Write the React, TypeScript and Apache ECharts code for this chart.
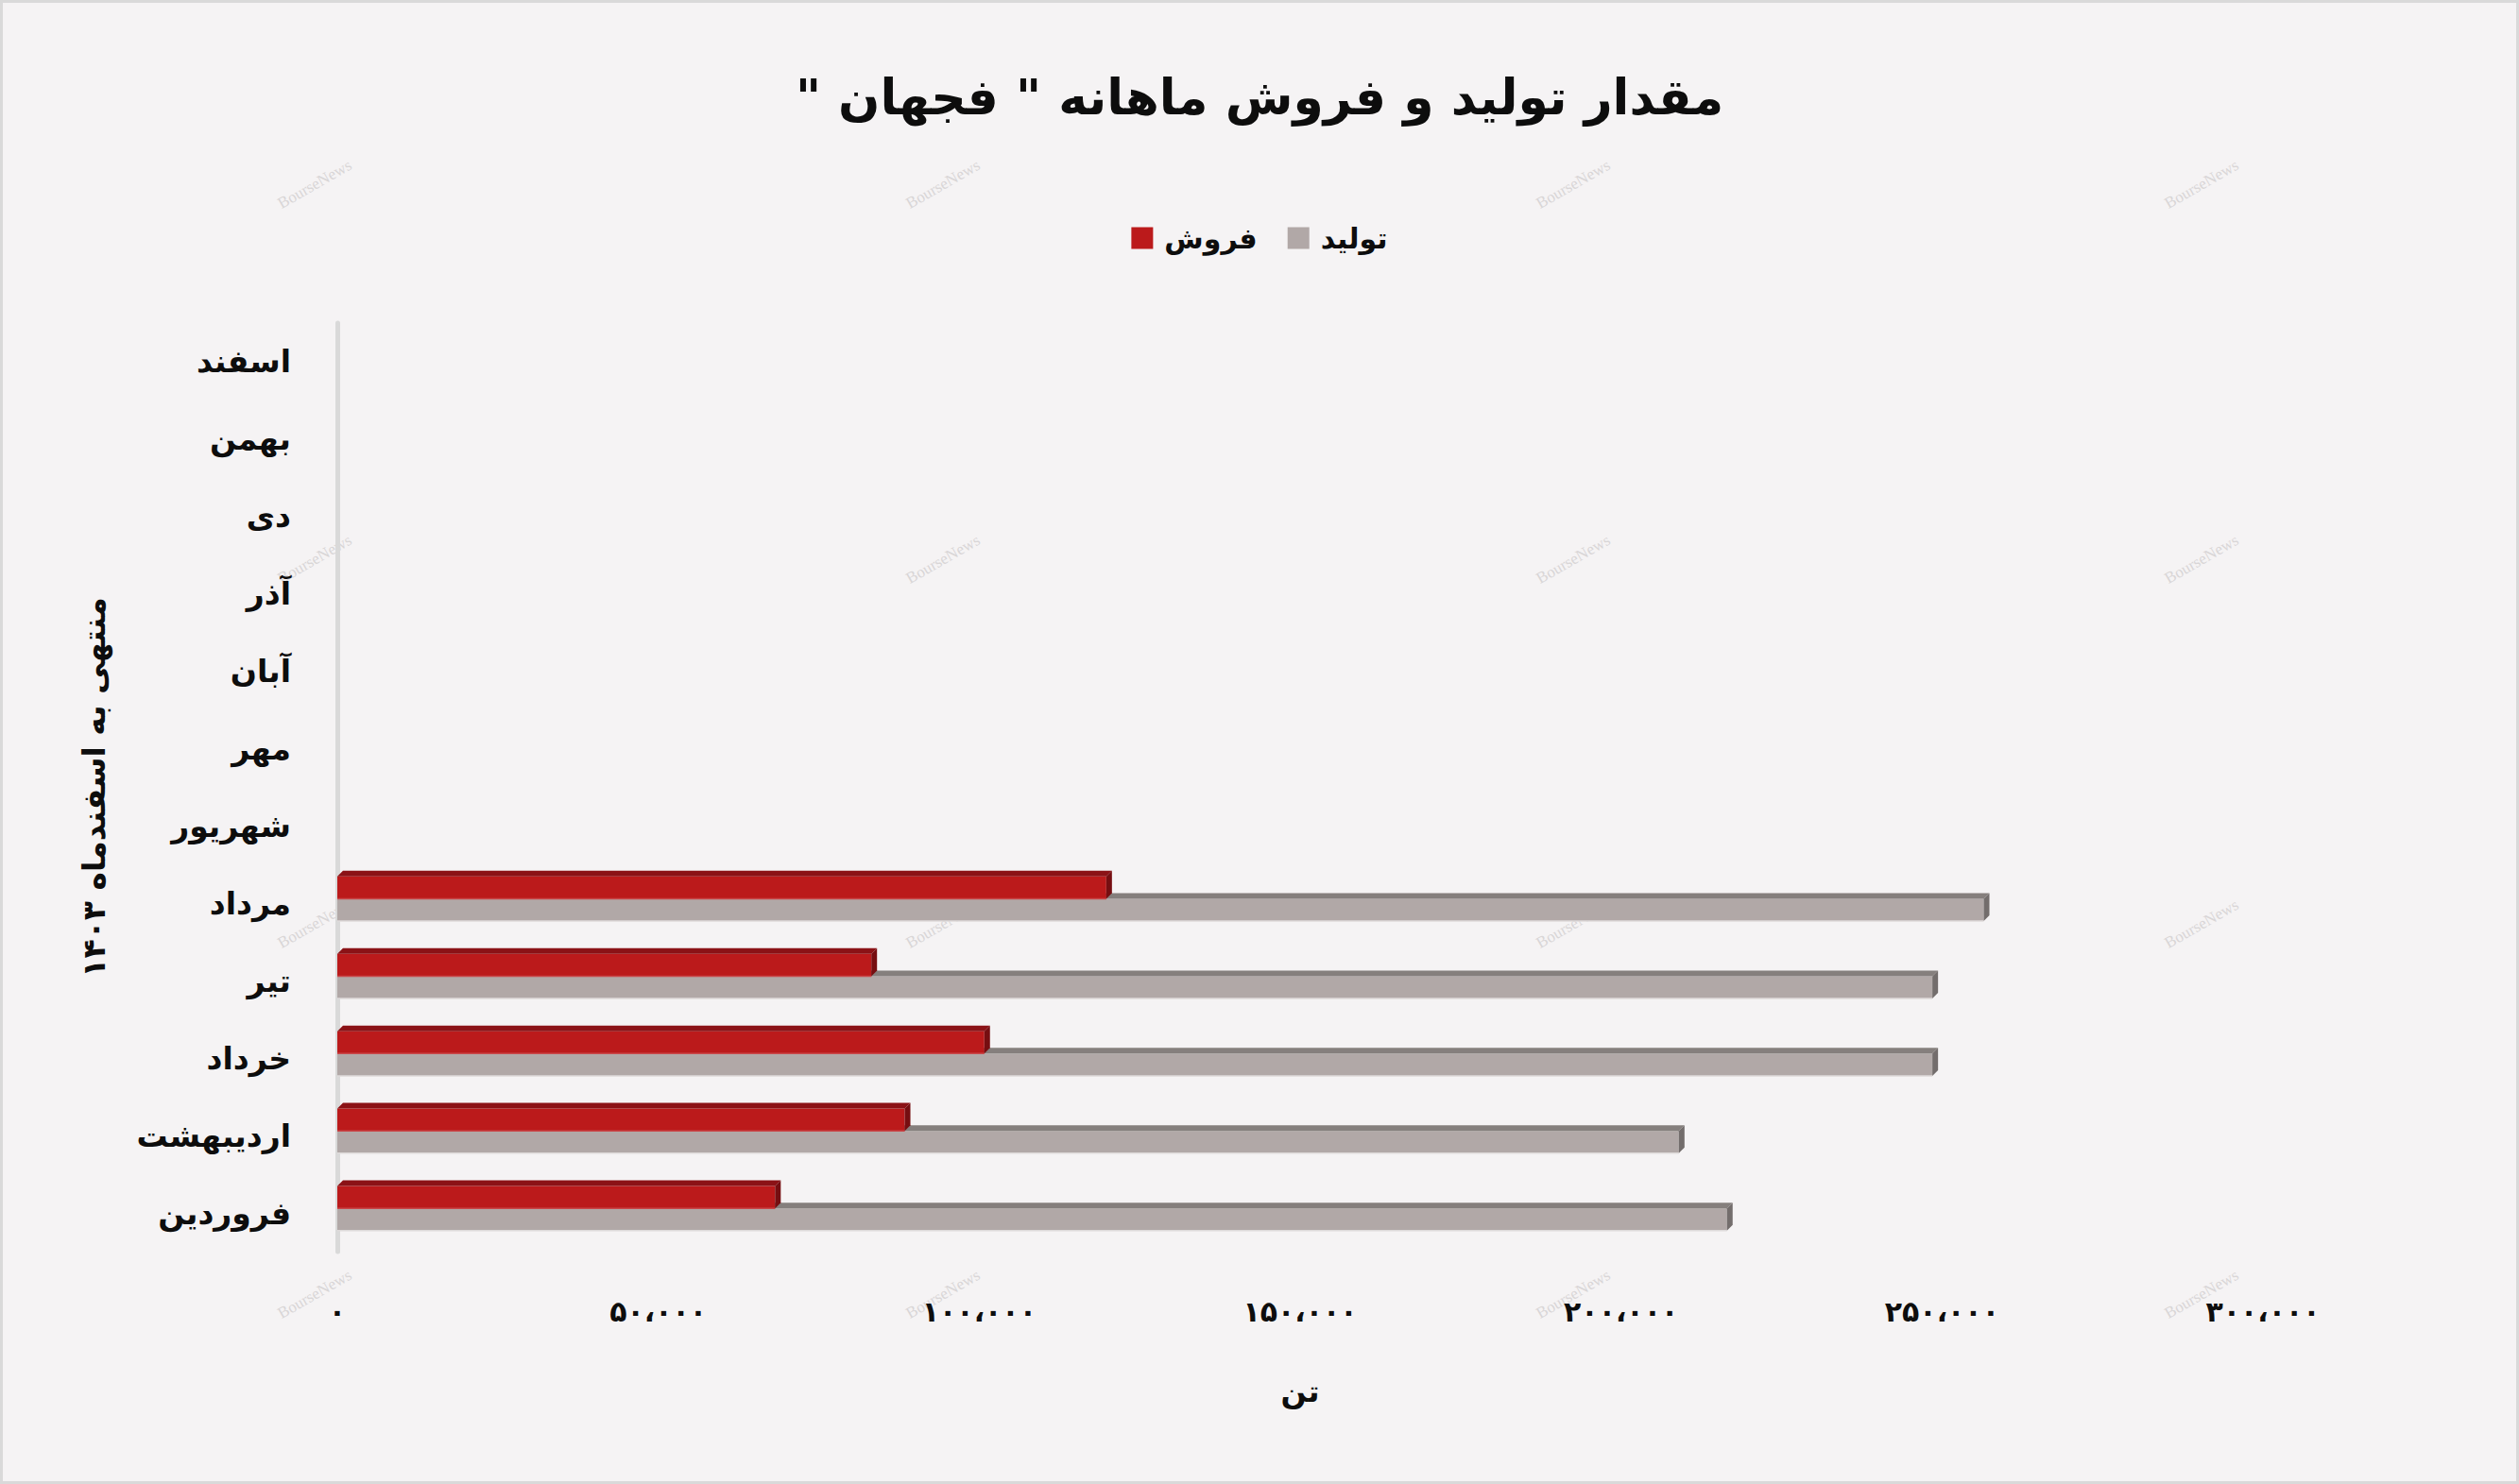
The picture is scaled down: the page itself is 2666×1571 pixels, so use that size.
import React, { useEffect, useRef } from "react";
import * as echarts from "echarts";

const months = [
  "فروردین",
  "اردیبهشت",
  "خرداد",
  "تیر",
  "مرداد",
  "شهریور",
  "مهر",
  "آبان",
  "آذر",
  "دی",
  "بهمن",
  "اسفند",
];
const production: (number | null)[] = [216500, 209000, 248500, 248500, 256500, null, null, null, null, null, null, null];
const sales: (number | null)[] = [68200, 88400, 100800, 83200, 119800, null, null, null, null, null, null, null];
const xTickLabels = ["۰", "۵۰،۰۰۰", "۱۰۰،۰۰۰", "۱۵۰،۰۰۰", "۲۰۰،۰۰۰", "۲۵۰،۰۰۰", "۳۰۰،۰۰۰"];
const titleText = 'مقدار تولید و فروش ماهانه " فجهان "\u200F';
const seriesNames = ["تولید", "فروش"];
const yAxisName = "منتهی به اسفندماه ۱۴۰۳";
const xAxisName = "تن";

const FONT = "DejaVu Sans";

const makeRender = (front: string, top: string, side: string, upper: boolean) => (params: any, api: any) => {
  const value = api.value(0);
  const cat = api.value(1);
  const start = api.coord([0, cat]);
  const end = api.coord([value, cat]);
  const band = api.size([0, 1])[1];
  const h = band * 0.288;
  const d = 6;
  const boundary = start[1] - band * 0.06;
  const y0 = upper ? boundary - h : boundary;
  const x0 = start[0];
  const x1 = end[0];
  return {
    type: "group",
    children: [
      { type: "rect", shape: { x: x0, y: y0, width: x1 - x0, height: h }, style: { fill: front } },
      {
        type: "polygon",
        shape: { points: [[x0, y0], [x0 + d, y0 - d], [x1 + d, y0 - d], [x1, y0]] },
        style: { fill: top },
      },
      {
        type: "polygon",
        shape: { points: [[x1, y0], [x1 + d, y0 - d], [x1 + d, y0 + h - d], [x1, y0 + h]] },
        style: { fill: side },
      },
      {
        type: "line",
        shape: { x1: x0, y1: y0 + h, x2: x1, y2: y0 + h },
        style: { stroke: upper ? "#c9484a" : "#dedada", lineWidth: 1.5 },
      },
    ],
  };
};

const toData = (arr: (number | null)[]) =>
  arr.map((v, i) => (v == null ? null : [v, i])).filter((d) => d !== null);

const wmCols = [333, 998, 1665, 2330];
const wmRows = [195, 592, 978, 1370];

export default function App() {
  const ref = useRef<HTMLDivElement>(null);
  useEffect(() => {
    document.body.style.margin = "0";
    const chart = echarts.init(ref.current!, null, { renderer: "svg" });
    const watermarks: any[] = [];
    wmRows.forEach((y) =>
      wmCols.forEach((x) =>
        watermarks.push({
          type: "text",
          x,
          y,
          rotation: 0.52,
          silent: true,
          z: 0,
          style: {
            text: "BourseNews",
            font: "17px 'Liberation Serif'",
            fill: "#d9d6d7",
            align: "center",
            verticalAlign: "middle",
          },
        })
      )
    );
    chart.setOption({
      animation: false,
      backgroundColor: "#f5f3f4",
      title: {
        text: titleText,
        left: "center",
        top: 72,
        textStyle: { fontFamily: FONT, fontSize: 52, fontWeight: "bold", color: "#0d0d0d" },
      },
      legend: {
        data: [seriesNames[1], seriesNames[0]],
        top: 232,
        left: "center",
        itemWidth: 23,
        itemHeight: 23,
        itemGap: 32,
        icon: "rect",
        textStyle: { fontFamily: FONT, fontSize: 30, fontWeight: "bold", color: "#0d0d0d", padding: [0, 0, 0, 7] },
      },
      graphic: watermarks,
      grid: { left: 357, right: 271, top: 342, bottom: 246 },
      xAxis: {
        type: "value",
        min: 0,
        max: 300000,
        interval: 50000,
        name: xAxisName,
        nameLocation: "middle",
        nameGap: 132,
        nameTextStyle: { fontFamily: FONT, fontSize: 32, fontWeight: "bold", color: "#0d0d0d" },
        axisLine: { show: false },
        axisTick: { show: false },
        splitLine: { show: false },
        axisLabel: {
          margin: 48,
          fontFamily: FONT,
          fontSize: 30,
          fontWeight: "bold",
          color: "#0d0d0d",
          formatter: (v: number) => xTickLabels[Math.round(v / 50000)] ?? "",
        },
      },
      yAxis: {
        type: "category",
        data: months,
        offset: 7,
        name: yAxisName,
        nameLocation: "middle",
        nameRotate: 90,
        nameGap: 234,
        nameTextStyle: {
          fontFamily: FONT,
          fontSize: 33,
          fontWeight: "bold",
          color: "#0d0d0d",
          padding: [0, 0, 0, 0],
        },
        axisLine: { show: true, lineStyle: { color: "#d9d9d9", width: 5 } },
        axisTick: { show: false },
        axisLabel: {
          margin: 42,
          fontFamily: FONT,
          fontSize: 33,
          fontWeight: "bold",
          color: "#0d0d0d",
          padding: [10, 0, 0, 0],
        },
      },
      series: [
        {
          name: seriesNames[0],
          type: "custom",
          itemStyle: { color: "#b1a8a7" },
          encode: { x: 0, y: 1 },
          renderItem: makeRender("#b1a8a7", "#857f7d", "#736d6c", false),
          data: toData(production),
          z: 2,
        },
        {
          name: seriesNames[1],
          type: "custom",
          itemStyle: { color: "#bb1a1b" },
          encode: { x: 0, y: 1 },
          renderItem: makeRender("#bb1a1b", "#8b1216", "#760e11", true),
          data: toData(sales),
          z: 3,
        },
      ],
    });
    return () => chart.dispose();
  }, []);
  return (
    <div style={{ position: "relative", width: 2666, height: 1571 }}>
      <div ref={ref} style={{ width: 2666, height: 1571 }} />
      <div
        style={{
          position: "absolute",
          left: 0,
          top: 0,
          width: 2666,
          height: 1571,
          boxSizing: "border-box",
          border: "3px solid #d9d9d9",
          pointerEvents: "none",
        }}
      />
    </div>
  );
}
